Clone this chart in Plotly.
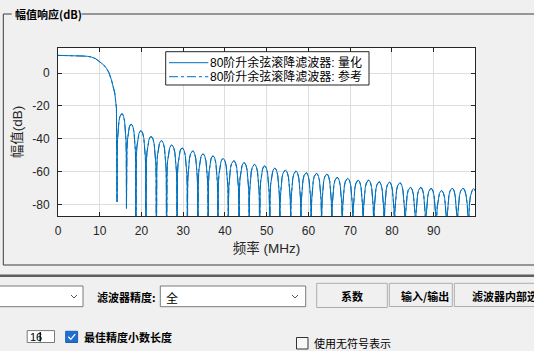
import plotly.graph_objects as go

# ---------------- data ----------------
# pass band + transition (MHz, dB)
pass_freq = [0, 1, 2, 3, 4, 5, 6, 7, 8, 9, 10.0, 10.8, 11.6, 12.2, 12.8, 13.2, 13.6, 14.0]
pass_db = [10.8, 10.8, 10.75, 10.7, 10.6, 10.5, 10.4, 10.25, 9.8, 8.8, 7.1, 5.3, 3.0, 0.3, -4.1, -7.5, -12.2, -21.4]

# stop band nulls (MHz) and their depth (dB; deep nulls fall below the axis)
null_freq = [14.15, 16.4, 18.65, 21.05, 23.55, 26.0, 28.5, 31.0, 33.5, 35.95, 38.3, 40.8,
             43.35, 45.8, 48.3, 50.7, 53.15, 55.75, 58.2, 60.65, 63.15, 65.6, 68.1, 70.65,
             73.1, 75.65, 78.15, 80.6, 83.15, 85.65, 88.1, 90.6, 93.15, 95.65, 98.3, 100.8]
null_db = [-78.4, -82.5] + [-130.0] * 34

# side lobe peak levels (dB), one per lobe between consecutive nulls
lobe_peak_db = [-24.7, -31.2, -35.2, -38.7, -41.2, -43.9, -45.7, -47.4, -49.3, -50.5,
                -52.1, -53.4, -54.6, -55.6, -56.6, -58.0, -59.1, -59.7, -60.7, -61.1,
                -61.5, -63.5, -64.1, -65.2, -65.2, -66.2, -66.4, -66.8, -69.6, -69.6,
                -70.2, -71.7, -70.1, -70.1, -70.5]

# arch shape of one side lobe (position across lobe, dB below peak)
lobe_pos = [0.02, 0.05, 0.1, 0.2, 0.3, 0.4, 0.5, 0.6, 0.7, 0.8, 0.9, 0.95, 0.98]
lobe_drop = [24, 16, 9.8, 4.6, 1.8, 0.4, 0, 0.4, 1.8, 4.6, 9.8, 16, 24]

x_tick_vals = [0, 10, 20, 30, 40, 50, 60, 70, 80, 90]
x_tick_text = ["0", "10", "20", "30", "40", "50", "60", "70", "80", "90"]
y_tick_vals = [0, -20, -40, -60, -80]
y_tick_text = ["0", "-20", "-40", "-60", "-80"]

series_names = ["80阶升余弦滚降滤波器: 量化", "80阶升余弦滚降滤波器: 参考"]

# ---------------- build the response curve ----------------
freq = list(pass_freq)
mag = list(pass_db)
for i, pk in enumerate(lobe_peak_db):
    f0, f1 = null_freq[i], null_freq[i + 1]
    freq.append(f0)
    mag.append(null_db[i])
    for p, d in zip(lobe_pos, lobe_drop):
        freq.append(f0 + p * (f1 - f0))
        mag.append(pk - d)
freq.append(null_freq[-1])
mag.append(null_db[-1])

BLUE = "#0072BD"
CJK = "Liberation Sans, Noto Sans CJK SC"
UI = "Noto Sans CJK SC"

fig = go.Figure()
fig.add_trace(go.Scatter(x=freq, y=mag, mode="lines", name=series_names[1],
                         line=dict(color=BLUE, width=1, dash="dashdot")))
fig.add_trace(go.Scatter(x=freq, y=mag, mode="lines", name=series_names[0],
                         line=dict(color=BLUE, width=1)))

# ---------------- layout geometry (pixels) ----------------
FW, FH = 534, 351
L, T, PW, PH = 58, 48, 417, 168


def px(v):
    return (v - L) / PW


def py(v):
    return (T + PH - v) / PH


shapes = []
annots = []


def rect(x0, y0, x1, y1, color="#7a7a7a", fill="white", w=1):
    shapes.append(dict(type="rect", xref="paper", yref="paper", x0=px(x0), x1=px(x1),
                       y0=py(y1), y1=py(y0), line=dict(color=color, width=w),
                       fillcolor=fill, layer="above"))


def line(x0, y0, x1, y1, color="#3c3c3c", w=1, dash="solid"):
    shapes.append(dict(type="line", xref="paper", yref="paper", x0=px(x0), x1=px(x1),
                       y0=py(y0), y1=py(y1), line=dict(color=color, width=w, dash=dash),
                       layer="above"))


def poly(pts, color="#555555", w=1):
    d = "M " + " L ".join(f"{px(a):.5f},{py(b):.5f}" for a, b in pts)
    shapes.append(dict(type="path", xref="paper", yref="paper", path=d,
                       line=dict(color=color, width=w), layer="above"))


def text(x, y, s, size=11, bold=False, anchor="left", color="#000000", family=UI):
    annots.append(dict(xref="paper", yref="paper", x=px(x), y=py(y), text=s,
                       showarrow=False, xanchor=anchor, yanchor="middle",
                       font=dict(family=family, size=size, color=color,
                                 weight="bold" if bold else "normal"),
                       borderpad=0))


# legend (drawn manually to match the compact MATLAB legend)
rect(165.7, 51.7, 369, 85, color="#262626", fill="white")
line(169, 62.7, 208.3, 62.7, color=BLUE, w=1)
line(169, 76.7, 208.3, 76.7, color=BLUE, w=1, dash="dashdot")
text(209, 62.7, series_names[0], size=12, family=CJK)
text(209, 76.7, series_names[1], size=12, family=CJK)

# panel frame with title
line(3.3, 14, 11.7, 14)
line(81.7, 14, 540, 14)
line(3.3, 14, 3.3, 265)
line(3.3, 265, 540, 265)
text(14, 14, "幅值响应(dB)", size=11, bold=True)

# separator
line(-5, 275.7, 540, 275.7, color="#5f5f5f", w=2.5)

# combo boxes
rect(-3, 286, 83, 306.7)
poly([(71, 295), (74, 298), (77, 295)])
text(96, 296.5, "滤波器精度:", size=11, bold=True)
rect(160.3, 286, 305.7, 306.7)
text(164.5, 297, "全", size=12)
poly([(292, 295), (295, 298), (298, 295)])

# tab buttons
rect(316.7, 283.3, 387.3, 307.5, color="#adadad", fill="#f0f0f0")
rect(389.3, 283.3, 452.3, 306.5, color="#adadad", fill="#f0f0f0")
rect(454.3, 283.3, 545, 306.5, color="#adadad", fill="#f0f0f0")
text(352, 295.7, "系数", size=11, bold=True, anchor="center")
text(425, 295.7, "输入/输出", size=11, bold=True, anchor="center")
text(471, 296, "滤波器内部选项", size=11, bold=True)

# bottom row
rect(27.2, 330.6, 54.5, 342.5)
text(28.5, 336.8, "16", size=11, family="Liberation Sans")
line(40.2, 332, 40.2, 341.5, color="#000000", w=1.3)
rect(65.7, 331.3, 77.6, 342.5, color="#1a5fb4", fill="#1f6fcf")
poly([(68.3, 336.8), (70.8, 339.4), (75.2, 334.2)], color="white", w=1.3)
text(82.5, 336.8, "最佳精度小数长度", size=11, bold=True)
rect(296.5, 337.5, 308, 349, color="#333333", fill="#f7f7f7")
text(312.5, 343.2, "使用无符号表示", size=11)

axis_common = dict(showline=True, linecolor="#262626", linewidth=1, mirror="ticks",
                   ticks="inside", ticklen=4, tickcolor="#262626", showgrid=True,
                   gridcolor="#dedede", gridwidth=1, zeroline=False,
                   tickfont=dict(family="Liberation Sans", size=12, color="#262626"))

fig.update_layout(
    width=FW, height=FH,
    margin=dict(l=L, r=FW - L - PW, t=T, b=FH - T - PH, pad=0),
    paper_bgcolor="#f0f0f0", plot_bgcolor="white",
    showlegend=False,
    xaxis=dict(range=[0, 99.9], tickvals=x_tick_vals, ticktext=x_tick_text,
               title=dict(text="频率 (MHz)", font=dict(family=CJK, size=13.5, color="#262626"),
                          standoff=6),
               ticklabelstandoff=4, **axis_common),
    yaxis=dict(range=[-87.1, 15.3], tickvals=y_tick_vals, ticktext=y_tick_text,
               title=dict(text="幅值(dB)", font=dict(family=CJK, size=13.5, color="#262626"),
                          standoff=6),
               ticklabelstandoff=5, **axis_common),
    shapes=shapes, annotations=annots,
)

fig.write_html("out.html")
